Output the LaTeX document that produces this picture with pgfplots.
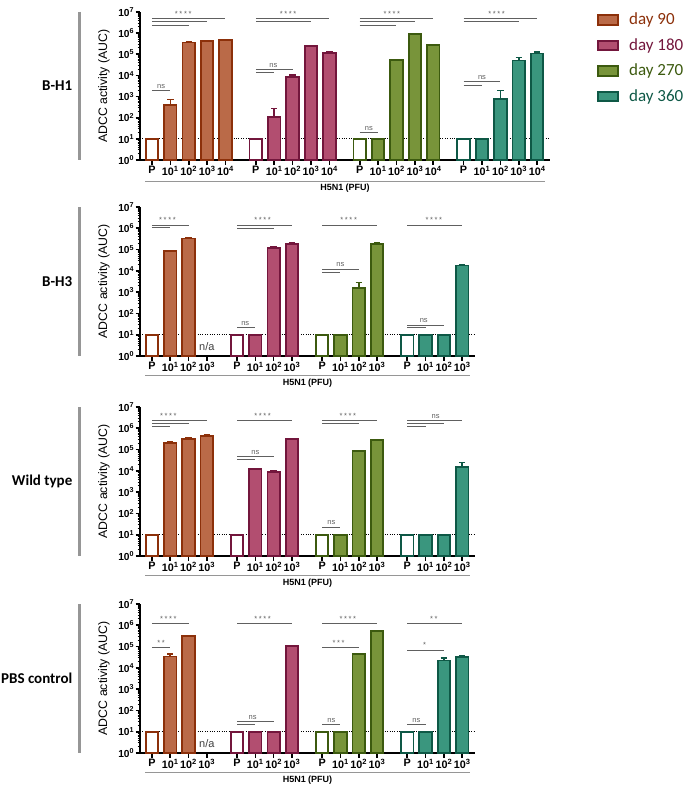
\documentclass[border=0pt]{standalone}
\usepackage{pgfplots}
\pgfplotsset{compat=1.18}
\usepackage{fontspec}
\setmainfont{Liberation Sans}
\setsansfont{Liberation Sans}
\newfontfamily\carlito{Carlito}
\definecolor{f90}{RGB}{186,106,72}
\definecolor{e90}{RGB}{140,48,10}
\definecolor{f180}{RGB}{178,78,112}
\definecolor{e180}{RGB}{115,22,60}
\definecolor{f270}{RGB}{120,148,58}
\definecolor{e270}{RGB}{60,90,15}
\definecolor{f360}{RGB}{58,150,126}
\definecolor{e360}{RGB}{14,88,70}
\definecolor{sigc}{RGB}{96,96,96}
\definecolor{framec}{RGB}{150,150,150}

\newcommand{\sig}[3]{\draw[sigc, line width=1pt] (axis cs:#1,#3) -- (axis cs:#2,#3);}
\newcommand{\st}[3]{\node[font=\fontsize{7.5}{9}\selectfont, text=sigc, anchor=base, inner sep=0pt, yshift=2.2pt] at (axis cs:#1,#3) {#2};}
\newcommand{\sfour}{*\kern1.6pt*\kern1.6pt*\kern1.6pt*}
\newcommand{\sthree}{*\kern1.6pt*\kern1.6pt*}
\newcommand{\stwo}{*\kern1.6pt*}
\newcommand{\su}[1]{10\textsuperscript{#1}}
\tikzset{dotl/.style={black, line width=1.1pt, dash pattern=on 1pt off 1.4pt}}

\pgfplotsset{
  every axis/.append style={
    scale only axis, ymin=1, ymax=1e7,
    axis lines*=left,
    axis line style={line width=2.2pt, black},
    ytick={1,10,100,1000,10000,100000,1000000,10000000},
    yticklabels={\su{0},\su{1},\su{2},\su{3},\su{4},\su{5},\su{6},\su{7}},
    tick align=outside,
    major tick length=4.5pt, minor tick length=2.5pt,
    major tick style={line width=1.6pt, black},
    minor tick style={line width=0.9pt, black},
    xticklabel style={font=\bfseries\fontsize{10.8}{12}\selectfont, inner sep=1.5pt},
    yticklabel style={font=\bfseries\fontsize{10.2}{11}\selectfont, inner sep=1.2pt},
    clip=false, xmin=-0.65,
  },
}

\begin{document}
\begin{tikzpicture}
\useasboundingbox (0,0) rectangle (687pt,-789pt);

% ================= Panel 1: B-H1 =================
\begin{semilogyaxis}[at={(140pt,-160pt)}, anchor=south west,
  width=410pt, height=148pt, xmax=21.65,
  xtick={0,1,2,3,4,5.65,6.65,7.65,8.65,9.65,11.3,12.3,13.3,14.3,15.3,16.95,17.95,18.95,19.95,20.95},
  xticklabels={P,\su{1},\su{2},\su{3},\su{4},P,\su{1},\su{2},\su{3},\su{4},P,\su{1},\su{2},\su{3},\su{4},P,\su{1},\su{2},\su{3},\su{4}}]
\draw[dotl] (axis cs:-0.65,10) -- (axis cs:21.65,10);
\addplot[ybar, bar width=0.68, bar shift=0pt, line width=1.8pt, draw=e90, fill=white] coordinates {(0,10)};
\addplot[ybar, bar width=0.68, bar shift=0pt, line width=1.8pt, draw=e90, fill=f90,
  error bars/.cd, y dir=plus, y explicit, error bar style={line width=1.5pt, e90}, error mark options={rotate=90, mark size=3.2pt, line width=1.5pt, e90}]
  coordinates {(1,400) +- (0,340) (2,3.6e5) +- (0,2e4) (3,4.1e5) +- (0,2e4) (4,4.6e5) +- (0,3e4)};
\addplot[ybar, bar width=0.68, bar shift=0pt, line width=1.8pt, draw=e180, fill=white] coordinates {(5.65,10)};
\addplot[ybar, bar width=0.68, bar shift=0pt, line width=1.8pt, draw=e180, fill=f180,
  error bars/.cd, y dir=plus, y explicit, error bar style={line width=1.5pt, e180}, error mark options={rotate=90, mark size=3.2pt, line width=1.5pt, e180}]
  coordinates {(6.65,112) +- (0,160) (7.65,8100) +- (0,2600) (8.65,2.37e5) +- (0,1e4) (9.65,1.18e5) +- (0,8e3)};
\addplot[ybar, bar width=0.68, bar shift=0pt, line width=1.8pt, draw=e270, fill=white] coordinates {(11.3,10)};
\addplot[ybar, bar width=0.68, bar shift=0pt, line width=1.8pt, draw=e270, fill=f270,
  error bars/.cd, y dir=plus, y explicit, error bar style={line width=1.5pt, e270}, error mark options={rotate=90, mark size=3.2pt, line width=1.5pt, e270}]
  coordinates {(12.3,10) +- (0,0) (13.3,5.4e4) +- (0,3e3) (14.3,9.1e5) +- (0,5e4) (15.3,2.8e5) +- (0,1.5e4)};
\addplot[ybar, bar width=0.68, bar shift=0pt, line width=1.8pt, draw=e360, fill=white] coordinates {(16.95,10)};
\addplot[ybar, bar width=0.68, bar shift=0pt, line width=1.8pt, draw=e360, fill=f360,
  error bars/.cd, y dir=plus, y explicit, error bar style={line width=1.5pt, e360}, error mark options={rotate=90, mark size=3.2pt, line width=1.5pt, e360}]
  coordinates {(17.95,10) +- (0,0) (18.95,740) +- (0,1160) (19.95,5.1e4) +- (0,1.8e4) (20.95,1.1e5) +- (0,2e4)};
\sig{0}{4}{4.7e6} \sig{0}{3}{3.4e6} \sig{0}{2}{2.25e6} \st{1.7}{\sfour}{4.7e6}
\sig{0}{1}{2000} \st{0.5}{ns}{2000}
\sig{5.65}{9.65}{4.7e6} \sig{5.65}{8.65}{3.4e6} \st{7.4}{\sfour}{4.7e6}
\sig{5.65}{7.65}{1.95e4} \sig{5.65}{6.65}{1.35e4} \st{6.6}{ns}{1.95e4}
\sig{11.3}{15.3}{4.7e6} \sig{11.3}{14.3}{3.5e6} \sig{11.3}{13.3}{2.25e6} \st{13.05}{\sfour}{4.7e6}
\sig{11.3}{12.3}{20.4} \st{11.8}{ns}{20.4}
\sig{16.95}{20.95}{4.7e6} \sig{16.95}{19.95}{3.5e6} \st{18.75}{\sfour}{4.7e6}
\sig{16.95}{18.95}{5000} \sig{16.95}{17.95}{3200} \st{17.95}{ns}{5000}
\end{semilogyaxis}

% ================= Panel 2: B-H3 =================
\begin{semilogyaxis}[at={(140pt,-356pt)}, anchor=south west,
  width=335pt, height=149pt, xmax=17.65,
  xtick={0,1,2,3,4.65,5.65,6.65,7.65,9.3,10.3,11.3,12.3,13.95,14.95,15.95,16.95},
  xticklabels={P,\su{1},\su{2},\su{3},P,\su{1},\su{2},\su{3},P,\su{1},\su{2},\su{3},P,\su{1},\su{2},\su{3}}]
\draw[dotl] (axis cs:-0.65,10) -- (axis cs:17.65,10);
\addplot[ybar, bar width=0.68, bar shift=0pt, line width=1.8pt, draw=e90, fill=white] coordinates {(0,10)};
\addplot[ybar, bar width=0.68, bar shift=0pt, line width=1.8pt, draw=e90, fill=f90,
  error bars/.cd, y dir=plus, y explicit, error bar style={line width=1.5pt, e90}, error mark options={rotate=90, mark size=3.2pt, line width=1.5pt, e90}]
  coordinates {(1,8.3e4) +- (0,5e3) (2,3.3e5) +- (0,2e4)};
\addplot[ybar, bar width=0.68, bar shift=0pt, line width=1.8pt, draw=e180, fill=white] coordinates {(4.65,10)};
\addplot[ybar, bar width=0.68, bar shift=0pt, line width=1.8pt, draw=e180, fill=f180,
  error bars/.cd, y dir=plus, y explicit, error bar style={line width=1.5pt, e180}, error mark options={rotate=90, mark size=3.2pt, line width=1.5pt, e180}]
  coordinates {(5.65,10) +- (0,0) (6.65,1.23e5) +- (0,8e3) (7.65,1.9e5) +- (0,1e4)};
\addplot[ybar, bar width=0.68, bar shift=0pt, line width=1.8pt, draw=e270, fill=white] coordinates {(9.3,10)};
\addplot[ybar, bar width=0.68, bar shift=0pt, line width=1.8pt, draw=e270, fill=f270,
  error bars/.cd, y dir=plus, y explicit, error bar style={line width=1.5pt, e270}, error mark options={rotate=90, mark size=3.2pt, line width=1.5pt, e270}]
  coordinates {(10.3,10) +- (0,0) (11.3,1560) +- (0,1240) (12.3,1.9e5) +- (0,1e4)};
\addplot[ybar, bar width=0.68, bar shift=0pt, line width=1.8pt, draw=e360, fill=white] coordinates {(13.95,10)};
\addplot[ybar, bar width=0.68, bar shift=0pt, line width=1.8pt, draw=e360, fill=f360,
  error bars/.cd, y dir=plus, y explicit, error bar style={line width=1.5pt, e360}, error mark options={rotate=90, mark size=3.2pt, line width=1.5pt, e360}]
  coordinates {(14.95,10) +- (0,0) (15.95,10) +- (0,0) (16.95,1.77e4) +- (0,1.5e3)};
\node[font=\fontsize{11}{13}\selectfont, text=black!75] at (axis cs:3,2.9) {n/a};
\sig{0}{2}{1.42e6} \sig{0}{1}{1.07e6} \st{0.85}{\sfour}{1.42e6}
\sig{4.65}{7.65}{1.42e6} \sig{4.65}{6.65}{1.0e6} \st{6.05}{\sfour}{1.42e6}
\sig{4.65}{5.65}{20.7} \st{5.1}{ns}{20.7}
\sig{9.3}{12.3}{1.42e6} \st{10.75}{\sfour}{1.42e6}
\sig{9.3}{11.3}{1.22e4} \sig{9.3}{10.3}{8200} \st{10.3}{ns}{1.22e4}
\sig{13.95}{16.95}{1.42e6} \st{15.4}{\sfour}{1.42e6}
\sig{13.95}{15.95}{28.6} \sig{13.95}{14.95}{20.7} \st{14.85}{ns}{28.6}
\end{semilogyaxis}

% ================= Panel 3: Wild type =================
\begin{semilogyaxis}[at={(140pt,-556pt)}, anchor=south west,
  width=335pt, height=149pt, xmax=17.65,
  xtick={0,1,2,3,4.65,5.65,6.65,7.65,9.3,10.3,11.3,12.3,13.95,14.95,15.95,16.95},
  xticklabels={P,\su{1},\su{2},\su{3},P,\su{1},\su{2},\su{3},P,\su{1},\su{2},\su{3},P,\su{1},\su{2},\su{3}}]
\draw[dotl] (axis cs:-0.65,10) -- (axis cs:17.65,10);
\addplot[ybar, bar width=0.68, bar shift=0pt, line width=1.8pt, draw=e90, fill=white] coordinates {(0,10)};
\addplot[ybar, bar width=0.68, bar shift=0pt, line width=1.8pt, draw=e90, fill=f90,
  error bars/.cd, y dir=plus, y explicit, error bar style={line width=1.5pt, e90}, error mark options={rotate=90, mark size=3.2pt, line width=1.5pt, e90}]
  coordinates {(1,2.0e5) +- (0,3e4) (2,3.1e5) +- (0,4e4) (3,4.5e5) +- (0,5e4)};
\addplot[ybar, bar width=0.68, bar shift=0pt, line width=1.8pt, draw=e180, fill=white] coordinates {(4.65,10)};
\addplot[ybar, bar width=0.68, bar shift=0pt, line width=1.8pt, draw=e180, fill=f180,
  error bars/.cd, y dir=plus, y explicit, error bar style={line width=1.5pt, e180}, error mark options={rotate=90, mark size=3.2pt, line width=1.5pt, e180}]
  coordinates {(5.65,1.18e4) +- (0,1e3) (6.65,9.2e3) +- (0,1e3) (7.65,3.1e5) +- (0,1e4)};
\addplot[ybar, bar width=0.68, bar shift=0pt, line width=1.8pt, draw=e270, fill=white] coordinates {(9.3,10)};
\addplot[ybar, bar width=0.68, bar shift=0pt, line width=1.8pt, draw=e270, fill=f270,
  error bars/.cd, y dir=plus, y explicit, error bar style={line width=1.5pt, e270}, error mark options={rotate=90, mark size=3.2pt, line width=1.5pt, e270}]
  coordinates {(10.3,10) +- (0,0) (11.3,8.5e4) +- (0,4e3) (12.3,2.7e5) +- (0,1.5e4)};
\addplot[ybar, bar width=0.68, bar shift=0pt, line width=1.8pt, draw=e360, fill=white] coordinates {(13.95,10)};
\addplot[ybar, bar width=0.68, bar shift=0pt, line width=1.8pt, draw=e360, fill=f360,
  error bars/.cd, y dir=plus, y explicit, error bar style={line width=1.5pt, e360}, error mark options={rotate=90, mark size=3.2pt, line width=1.5pt, e360}]
  coordinates {(14.95,10) +- (0,0) (15.95,10) +- (0,0) (16.95,1.5e4) +- (0,1e4)};
\sig{0}{3}{2.35e6} \sig{0}{2}{1.66e6} \sig{0}{1}{1.15e6} \st{0.9}{\sfour}{2.35e6}
\sig{4.65}{7.65}{2.35e6} \st{6.05}{\sfour}{2.35e6}
\sig{4.65}{6.65}{4.5e4} \sig{4.65}{5.65}{3.4e4} \st{5.65}{ns}{4.5e4}
\sig{9.3}{12.3}{2.35e6} \sig{9.3}{11.3}{1.66e6} \st{10.7}{\sfour}{2.35e6}
\sig{9.3}{10.3}{23} \st{9.8}{ns}{23}
\sig{13.95}{16.95}{2.35e6} \sig{13.95}{15.95}{1.66e6} \sig{13.95}{14.95}{1.15e6} \st{15.5}{ns}{2.35e6}
\end{semilogyaxis}

% ================= Panel 4: PBS control =================
\begin{semilogyaxis}[at={(140pt,-753pt)}, anchor=south west,
  width=335pt, height=149pt, xmax=17.65,
  xtick={0,1,2,3,4.65,5.65,6.65,7.65,9.3,10.3,11.3,12.3,13.95,14.95,15.95,16.95},
  xticklabels={P,\su{1},\su{2},\su{3},P,\su{1},\su{2},\su{3},P,\su{1},\su{2},\su{3},P,\su{1},\su{2},\su{3}}]
\draw[dotl] (axis cs:-0.65,10) -- (axis cs:17.65,10);
\addplot[ybar, bar width=0.68, bar shift=0pt, line width=1.8pt, draw=e90, fill=white] coordinates {(0,10)};
\addplot[ybar, bar width=0.68, bar shift=0pt, line width=1.8pt, draw=e90, fill=f90,
  error bars/.cd, y dir=plus, y explicit, error bar style={line width=1.5pt, e90}, error mark options={rotate=90, mark size=3.2pt, line width=1.5pt, e90}]
  coordinates {(1,3.4e4) +- (0,1e4) (2,3.2e5) +- (0,1e4)};
\addplot[ybar, bar width=0.68, bar shift=0pt, line width=1.8pt, draw=e180, fill=white] coordinates {(4.65,10)};
\addplot[ybar, bar width=0.68, bar shift=0pt, line width=1.8pt, draw=e180, fill=f180,
  error bars/.cd, y dir=plus, y explicit, error bar style={line width=1.5pt, e180}, error mark options={rotate=90, mark size=3.2pt, line width=1.5pt, e180}]
  coordinates {(5.65,10) +- (0,0) (6.65,10) +- (0,0) (7.65,1.07e5) +- (0,8e3)};
\addplot[ybar, bar width=0.68, bar shift=0pt, line width=1.8pt, draw=e270, fill=white] coordinates {(9.3,10)};
\addplot[ybar, bar width=0.68, bar shift=0pt, line width=1.8pt, draw=e270, fill=f270,
  error bars/.cd, y dir=plus, y explicit, error bar style={line width=1.5pt, e270}, error mark options={rotate=90, mark size=3.2pt, line width=1.5pt, e270}]
  coordinates {(10.3,10) +- (0,0) (11.3,4.5e4) +- (0,3e3) (12.3,5.5e5) +- (0,3e4)};
\addplot[ybar, bar width=0.68, bar shift=0pt, line width=1.8pt, draw=e360, fill=white] coordinates {(13.95,10)};
\addplot[ybar, bar width=0.68, bar shift=0pt, line width=1.8pt, draw=e360, fill=f360,
  error bars/.cd, y dir=plus, y explicit, error bar style={line width=1.5pt, e360}, error mark options={rotate=90, mark size=3.2pt, line width=1.5pt, e360}]
  coordinates {(14.95,10) +- (0,0) (15.95,2.2e4) +- (0,7e3) (16.95,3.3e4) +- (0,3e3)};
\node[font=\fontsize{11}{13}\selectfont, text=black!75] at (axis cs:3,2.9) {n/a};
\sig{0}{2}{1.17e6} \st{0.9}{\sfour}{1.17e6}
\sig{0}{1}{8.7e4} \st{0.5}{\stwo}{8.7e4}
\sig{4.65}{7.65}{1.17e6} \st{6.05}{\sfour}{1.17e6}
\sig{4.65}{6.65}{31} \sig{4.65}{5.65}{22.5} \st{5.5}{ns}{31}
\sig{9.3}{12.3}{1.17e6} \st{10.7}{\sfour}{1.17e6}
\sig{9.3}{11.3}{8.7e4} \st{10.2}{\sthree}{8.7e4}
\sig{9.3}{10.3}{22.5} \st{9.8}{ns}{22.5}
\sig{13.95}{16.95}{1.17e6} \st{15.4}{\stwo}{1.17e6}
\sig{13.95}{15.95}{6.9e4} \st{14.9}{*}{6.9e4}
\sig{13.95}{14.95}{22.5} \st{14.45}{ns}{22.5}
\end{semilogyaxis}

% ================= decorations =================
\foreach \yt/\yb/\lab in {12/160/B-H1, 207/356/B-H3, 407/556/Wild type, 604/753/PBS control}{
  \draw[framec, line width=3pt] (79pt,-\yt pt) -- (79pt,-\yb pt);
  \node[anchor=east, font=\carlito\bfseries\fontsize{15}{18}\selectfont, inner sep=0pt] at (72.5pt,{-(\yt+\yb)/2*1pt}) {\lab};
  \node[rotate=90, font=\fontsize{12.3}{14}\selectfont, inner sep=0pt] at (104pt,{-(\yt+\yb)/2*1pt}) {ADCC activity (AUC)};
}
\draw[framec, line width=1.5pt] (145pt,-181.5pt) -- (545pt,-181.5pt);
\node[font=\bfseries\fontsize{9}{11}\selectfont, inner sep=0pt] at (345pt,-188.5pt) {H5N1 (PFU)};
\foreach \yl in {375.7, 575.7, 772.7}{
  \draw[framec, line width=1.5pt] (145pt,-\yl pt) -- (470pt,-\yl pt);
  \node[font=\bfseries\fontsize{9}{11}\selectfont, inner sep=0pt] at (307.5pt,{-(\yl+7.8)*1pt}) {H5N1 (PFU)};
}
% legend
\foreach \yc/\fc/\ec/\txt in {20/f90/e90/day 90, 45.5/f180/e180/day 180, 71/f270/e270/day 270, 96.5/f360/e360/day 360}{
  \draw[\ec, fill=\fc, line width=2.3pt] (598pt,{-(\yc-4.8)*1pt}) rectangle (618pt,{-(\yc+4.8)*1pt});
  \node[anchor=base west, font=\carlito\fontsize{17}{20}\selectfont, text=\ec, inner sep=0pt] at (629pt,{-(\yc+4.8)*1pt}) {\txt};
}
\end{tikzpicture}
\end{document}
